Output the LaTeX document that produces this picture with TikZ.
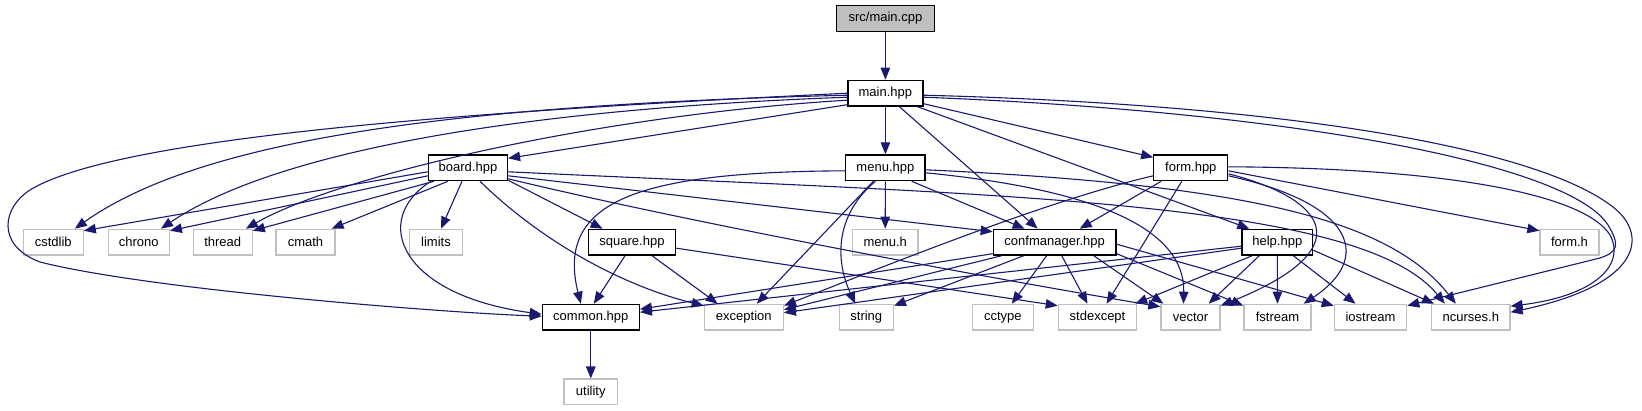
\documentclass[tikz,border=0pt]{standalone}
\usepackage{fontspec}
\setmainfont{Liberation Sans}
\usetikzlibrary{arrows.meta,calc}
\definecolor{edgecol}{HTML}{191970}
\definecolor{sysgray}{HTML}{BFBFBF}
\begin{document}
\begin{tikzpicture}[x=1pt,y=-1pt,
  base/.style={rectangle, inner sep=0pt, minimum height=25.7pt, fill=white, font=\fontsize{13}{15}\selectfont},
  loc/.style={base, draw=black, line width=1.3pt},
  sys/.style={base, draw=sysgray, line width=1.3pt},
  dep/.style={draw=edgecol, line width=1.1pt, -{Triangle[length=12pt,width=9.5pt]}},
]
\useasboundingbox (0,0) rectangle (1642,411);
% nodes
\node[loc, fill=sysgray, minimum width=98pt] (maincpp) at (885.4,18.5) {src/main.cpp};
\node[loc, minimum width=75pt] (mainh) at (885.4,93.2) {main.hpp};
\node[loc, minimum width=79pt] (board) at (468,167.8) {board.hpp};
\node[loc, minimum width=79.3pt] (menu) at (885.4,167.8) {menu.hpp};
\node[loc, minimum width=74pt] (form) at (1190.8,167.8) {form.hpp};
\node[sys, minimum width=60pt] (cstdlib) at (53.2,242.2) {cstdlib};
\node[sys, minimum width=61pt] (chrono) at (138.8,242.2) {chrono};
\node[sys, minimum width=59pt] (thread) at (222.7,242.2) {thread};
\node[sys, minimum width=59pt] (cmath) at (305.5,242.2) {cmath};
\node[sys, minimum width=53.6pt] (limits) at (436,242.2) {limits};
\node[loc, minimum width=87.5pt] (square) at (632,242.2) {square.hpp};
\node[sys, minimum width=65.4pt] (menuh) at (885.2,242.2) {menu.h};
\node[loc, minimum width=122.7pt] (conf) at (1054.7,242.2) {confmanager.hpp};
\node[loc, minimum width=70.7pt] (help) at (1277.3,242.2) {help.hpp};
\node[sys, minimum width=59pt] (formh) at (1569.5,242.2) {form.h};
\node[loc, minimum width=97pt] (common) at (590.8,317.2) {common.hpp};
\node[sys, minimum width=79pt] (exception) at (743.8,317.2) {exception};
\node[sys, minimum width=54pt] (string) at (866.3,317.2) {string};
\node[sys, minimum width=61pt] (cctype) at (1002.8,317.2) {cctype};
\node[sys, minimum width=78.3pt] (stdexcept) at (1097.5,317.2) {stdexcept};
\node[sys, minimum width=59pt] (vector) at (1190.5,317.2) {vector};
\node[sys, minimum width=67pt] (fstream) at (1277.5,317.2) {fstream};
\node[sys, minimum width=72.3pt] (iostream) at (1370.5,317.2) {iostream};
\node[sys, minimum width=78.3pt] (ncurses) at (1470.8,317.2) {ncurses.h};
\node[sys, minimum width=53.5pt] (utility) at (590.8,392) {utility};
% main.cpp / main.hpp
\draw[dep] (maincpp) -- (mainh);
\draw[dep] (mainh) -- (menu);
\draw[dep] ($(mainh.west)+(0,2)$) .. controls (450,105) and (200,140) .. ($(cstdlib.north east)+(-9,0)$);
\draw[dep] ($(mainh.west)+(0,4)$) .. controls (500,110) and (270,155) .. ($(chrono.north east)+(-9,0)$);
\draw[dep] ($(mainh.west)+(0,7)$) .. controls (600,115) and (340,175) .. ($(thread.north east)+(-7,0)$);
\draw[dep] (mainh.west) .. controls (500,110) and (120,135) .. (30,190) .. controls (3,207) and (-5,245) .. (40,262) .. controls (150,290) and (450,313) .. ($(common.west)+(0,-1)$);
\draw[dep] ($(mainh.south west)+(0,-2)$) -- ($(board.north east)+(0,4)$);
\draw[dep] ($(mainh.south)+(14,0)$) -- ($(conf.north)+(-17,0)$);
\draw[dep] ($(mainh.south east)+(-6,0)$) -- ($(help.north west)+(8,0)$);
\draw[dep] ($(mainh.south east)+(0,-3)$) -- ($(form.north west)+(0,3)$);
\draw[dep] ($(mainh.east)+(0,2)$) .. controls (1300,105) and (1540,150) .. (1613,207) .. controls (1650,236) and (1640,285) .. ($(ncurses.east)+(0,-5)$);
\draw[dep] ($(mainh.east)+(0,4)$) .. controls (1300,112) and (1570,165) .. (1608,225) .. controls (1620,245) and (1618,252) .. (1600,258) -- ($(iostream.north east)+(0,2)$);
% form.hpp
\draw[dep] ($(form.east)+(0,-1)$) .. controls (1450,168) and (1585,195) .. (1610,235) .. controls (1625,262) and (1600,295) .. ($(ncurses.east)+(0,-11)$);
\draw[dep] ($(form.east)+(0,3)$) -- ($(formh.north west)+(0,2)$);
\draw[dep] ($(form.east)+(0,6)$) .. controls (1330,200) and (1360,250) .. ($(vector.north east)+(0,2)$);
\draw[dep] ($(form.east)+(0,8)$) .. controls (1360,205) and (1370,260) .. ($(fstream.north east)+(-8,0)$);
\draw[dep] ($(form.south west)+(8,0)$) -- ($(conf.north)+(25,0)$);
\draw[dep] ($(form.south)+(-9,0)$) -- ($(stdexcept.north)+(9,0)$);
\draw[dep] ($(form.west)+(0,8)$) .. controls (1050,200) and (900,260) .. ($(exception.north east)+(0,2)$);
% menu.hpp
\draw[dep] (menu) -- (menuh);
\draw[dep] ($(menu.south east)+(-14,0)$) -- ($(conf.north)+(-30,0)$);
\draw[dep] ($(menu.west)+(0,3)$) .. controls (640,172) and (555,200) .. ($(common.north)+(-10,0)$);
\draw[dep] ($(menu.south)+(-12,0)$) -- ($(exception.north)+(13,0)$);
\draw[dep] ($(menu.south)+(-10,0)$) .. controls (835,215) and (835,260) .. ($(string.north)+(-11,0)$);
\draw[dep] ($(menu.east)+(0,5)$) .. controls (1100,190) and (1185,230) .. ($(vector.north)+(-7,0)$);
\draw[dep] ($(menu.east)+(0,2)$) .. controls (1250,185) and (1390,220) .. ($(ncurses.north)+(-15,0)$);
% board.hpp
\draw[dep] ($(board.west)+(0,4)$) -- ($(cstdlib.north east)+(0,2)$);
\draw[dep] ($(board.west)+(0,8)$) -- ($(chrono.north east)+(0,2)$);
\draw[dep] ($(board.south west)+(6,0)$) -- ($(thread.north east)+(0,2)$);
\draw[dep] ($(board.south west)+(20,0)$) -- ($(cmath.north east)+(-4,0)$);
\draw[dep] ($(board.south)+(-6,0)$) -- ($(limits.north)+(5,0)$);
\draw[dep] ($(board.south west)+(3,0)$) .. controls (370,220) and (400,295) .. ($(common.west)+(0,-3)$);
\draw[dep] ($(board.south)+(12,0)$) .. controls (540,240) and (620,285) .. ($(exception.north west)+(0,2)$);
\draw[dep] ($(board.south east)+(0,-1)$) -- ($(square.north west)+(15,0)$);
\draw[dep] ($(board.east)+(0,8)$) -- ($(conf.north west)+(0,3)$);
\draw[dep] ($(board.east)+(0,11)$) .. controls (700,225) and (1000,280) .. ($(vector.north west)+(0,3)$);
\draw[dep] ($(board.east)+(0,4)$) .. controls (1000,195) and (1360,200) .. ($(ncurses.north)+(-26,0)$);
% square.hpp
\draw[dep] ($(square.south)+(-7,0)$) -- ($(common.north)+(3,0)$);
\draw[dep] ($(square.south)+(20,0)$) -- ($(exception.north west)+(14,0)$);
\draw[dep] ($(square.east)+(0,6)$) -- ($(stdexcept.north west)+(0,2)$);
% confmanager.hpp
\draw[dep] ($(conf.south west)+(0,-2)$) -- ($(common.east)+(0,-8)$);
\draw[dep] ($(conf.south west)+(9,0)$) -- ($(exception.north east)+(0,6)$);
\draw[dep] ($(conf.south west)+(31,0)$) -- ($(string.north east)+(0,2)$);
\draw[dep] ($(conf.south)+(-8,0)$) -- ($(cctype.north)+(9,0)$);
\draw[dep] ($(conf.south)+(7,0)$) -- ($(stdexcept.north)+(-10,0)$);
\draw[dep] ($(conf.south)+(39,0)$) -- ($(vector.north west)+(3,0)$);
\draw[dep] ($(conf.south east)+(0,-2)$) -- ($(fstream.north west)+(0,2)$);
\draw[dep] ($(conf.east)+(0,2)$) -- ($(iostream.north west)+(0,2)$);
% help.hpp
\draw[dep] ($(help.west)+(0,4)$) -- ($(common.east)+(0,-5)$);
\draw[dep] ($(help.west)+(0,6)$) -- ($(exception.north east)+(0,9)$);
\draw[dep] ($(help.south west)+(11,0)$) -- ($(stdexcept.north east)+(-2,0)$);
\draw[dep] ($(help.south west)+(18,0)$) -- ($(vector.north east)+(-12,0)$);
\draw[dep] (help) -- (fstream);
\draw[dep] ($(help.south east)+(-20,0)$) -- ($(iostream.north)+(-15,0)$);
\draw[dep] ($(help.east)+(0,8)$) -- ($(ncurses.north west)+(3,0)$);
% common.hpp
\draw[dep] (common) -- (utility);
\end{tikzpicture}
\end{document}
